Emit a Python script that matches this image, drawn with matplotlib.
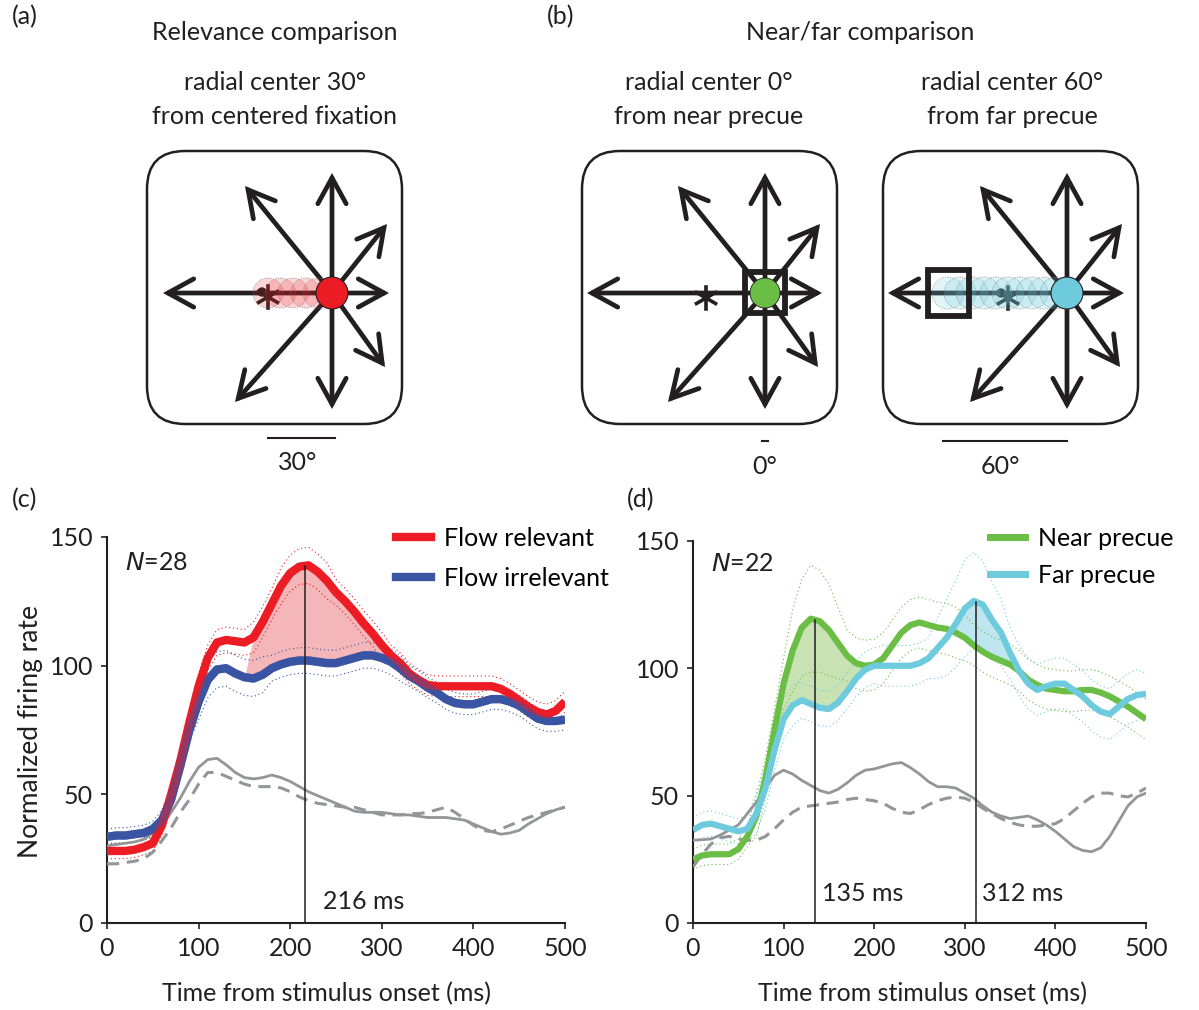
import numpy as np
import matplotlib
matplotlib.use("Agg")
import matplotlib.pyplot as plt
from matplotlib.patches import FancyBboxPatch, FancyArrowPatch, Circle, Rectangle
from matplotlib.lines import Line2D

plt.rcParams['font.family'] = ['Lato', 'DejaVu Sans']

# ---------------- data ----------------
t = np.arange(0, 501, 10)

# panel (c)
flow_relevant = [28, 28, 28, 28.5, 29.5, 31, 38, 50, 63, 78,
                 92, 103, 109, 110, 109.5, 109, 111, 117, 124, 131,
                 136, 138.5, 139, 136.5, 133, 128.5, 125, 121, 116.5, 112.5,
                 108, 104, 101, 97, 94.5, 92.5, 92, 92, 92, 92,
                 92, 92, 92, 91, 89, 86.5, 84, 82, 81, 82.5, 86]
flow_irrelevant = [33.5, 34, 34, 34.5, 35, 36.5, 40, 48, 61, 75,
                   86, 94.5, 98.5, 99, 97, 95.5, 95, 96.5, 99, 100.5,
                   101.5, 102, 102, 101.5, 101, 101, 102, 103, 104, 104,
                   103, 101.5, 99, 96, 94, 91.5, 89.5, 87, 85.5, 85,
                   85, 86, 87, 87, 86, 84.5, 82, 79.5, 78.5, 78.5, 79]
c_gray_solid = [30, 30.5, 31, 31.5, 32.5, 35, 38, 43, 48.5, 55,
                60.5, 63.5, 64, 61.5, 58.5, 56.5, 56, 56.5, 57.5, 56.5,
                55, 53, 51, 49.5, 48, 46.5, 45, 43.5, 43, 43,
                43, 42.5, 42, 42, 41.5, 41, 41, 41, 40.5, 40,
                38.5, 37, 35.5, 34.5, 35, 36, 38.5, 40.5, 42.5, 44, 45]
c_gray_dash = [23, 23, 23.5, 24, 25, 27.5, 32, 37, 43, 48,
               54, 58.5, 58.5, 57, 55.5, 54, 53, 53, 53, 52.5,
               51, 49, 47.5, 46.5, 46, 45.5, 45, 45, 44, 43,
               42, 42, 42, 42.5, 42.5, 43, 44, 45, 43, 40.5,
               38, 36, 35.5, 36.5, 38, 39.5, 41, 42, 43, 44, 45]
sem_relevant = [3, 3, 3, 3, 3, 3, 4, 4, 4, 4,
                5, 5, 5, 5, 5, 5, 6, 6, 6, 7,
                7, 7, 7, 7, 7, 5, 5, 5, 5, 5,
                5, 4, 4, 4, 4, 4, 4, 4, 4, 4,
                4, 4, 4, 4, 4, 4, 4, 4, 4, 4, 4]
sem_irrelevant = [3, 3, 3, 3, 3, 3, 4, 4, 4, 4,
                  7, 7, 7, 7, 7, 7, 7, 7, 5, 5,
                  5, 5, 5, 5, 5, 5, 5, 5, 5, 5,
                  5, 5, 5, 4, 4, 4, 4, 4, 4, 4,
                  4, 4, 4, 4, 4, 4, 4, 4, 4, 4, 4]

# panel (d)
near_precue = [25, 26.5, 27, 27, 27, 29, 34, 42, 57, 76,
               94, 107, 116, 119.5, 118.5, 115, 110, 105, 102, 101,
               101.5, 104, 109, 114, 117, 118, 117, 116, 115.5, 114,
               112, 109, 106.5, 104.5, 103, 101.5, 99, 95.5, 93.5, 92,
               91.5, 91, 91, 91.5, 91.5, 90.5, 89, 87, 85, 82.5, 80]
far_precue = [36.5, 38.5, 39, 38, 37, 36, 37, 43, 53, 68,
              80, 85.5, 87.5, 86, 84.5, 84, 86.5, 91, 96, 99.5,
              101, 101, 101, 101, 101, 102, 104, 108, 112, 117.5,
              123.5, 126.5, 125, 119, 114, 106, 99, 94, 91.5, 93,
              94, 94, 91.5, 89, 85.5, 83, 82, 85, 88, 89.5, 90]
d_gray_solid = [32.5, 32.7, 33, 34.5, 36.5, 38.5, 43, 47.5, 53, 58,
                60, 58.5, 56, 54, 52, 51, 52.5, 55, 58, 60,
                60.5, 61.5, 62.5, 63, 61, 58.5, 55.5, 53.5, 53.5, 53,
                51, 49, 46, 43.5, 42, 41, 41.5, 42, 40.5, 38.5,
                36, 33, 30, 28.5, 28, 29.5, 34, 40, 46, 49.5, 51]
d_gray_dash = [22, 27, 31, 33.5, 34, 33, 32.5, 32.5, 34, 37,
               40.5, 43.5, 45.5, 46, 46.5, 47, 47.5, 48.5, 49, 48.5,
               48, 47, 45, 43.5, 43, 44.5, 46.5, 48, 49, 49.5,
               49, 47.5, 45, 43, 41, 39.5, 38.5, 38, 38, 38.5,
               39, 41, 44, 47, 49.5, 51, 51, 50, 49.5, 51, 53]
sem_near = [4, 4, 4, 4, 4, 4, 4, 8, 8, 8,
            10, 16, 19, 21, 20, 18, 14, 10, 10, 10,
            10, 10, 10, 10, 10, 10, 10, 10, 10, 10,
            9, 8, 8, 8, 8, 8, 8, 8, 8, 8,
            8, 8, 8, 8, 8, 8, 8, 8, 8, 8, 8]
sem_far = [5, 5, 5, 5, 5, 5, 5, 8, 8, 8,
           8, 8, 7, 7, 7, 7, 7, 7, 7, 7,
           7, 8, 8, 8, 8, 8, 8, 12, 15, 17,
           19, 19, 17, 15, 13, 10, 10, 10, 10, 10,
           10, 10, 10, 10, 10, 10, 10, 10, 10, 10, 8]

c_labels = ["Flow relevant", "Flow irrelevant"]
d_labels = ["Near precue", "Far precue"]
c_mark = [216]
d_marks = [135, 312]

RED = "#ec1c24"
BLUE = "#3a54a4"
GREEN = "#6abd45"
CYAN = "#6dcbdd"
GRAY = "#939598"
INK = "#231f20"
FS = 18

fig = plt.figure(figsize=(11.99, 10.10), dpi=100)

# ---------------- top schematics (pixel coords) ----------------
top = fig.add_axes([0, 0, 1, 1])
top.set_xlim(0, 1199)
top.set_ylim(1010, 0)
top.axis("off")


def arrow(x0, y0, x1, y1):
    top.add_patch(FancyArrowPatch((x0, y0), (x1, y1),
                                  arrowstyle="->,head_length=0.62,head_width=0.34",
                                  mutation_scale=30, lw=3.4, color=INK,
                                  shrinkA=0, shrinkB=0, joinstyle="miter", zorder=3))


def asterisk(x, y):
    r = 11
    for a in [90, 30, 150]:
        dx = r * np.cos(np.radians(a))
        dy = r * np.sin(np.radians(a))
        top.plot([x - dx, x + dx], [y - dy, y + dy], color=INK, lw=2.6, zorder=4)


def flow_box(left, cx, cy, left_len):
    top.add_patch(FancyBboxPatch((left, 151), 255, 273,
                                 boxstyle="round,pad=0,rounding_size=38",
                                 fc="white", ec=INK, lw=1.8, zorder=1))
    ends = [(0, -120), (0, 116), (57, 0), (-left_len, 0),
            (-87, -107), (55, -69), (53, 74), (-97, 109)]
    for dx, dy in ends:
        arrow(cx, cy, cx + dx, cy + dy)


# (a)
flow_box(147, 332, 293, 169)
asterisk(268, 297)
top.add_patch(Circle((262, 292), 4, color=INK, zorder=4))
for x in np.linspace(268, 318, 5):
    top.add_patch(Circle((x, 293), 15, fc=RED, alpha=0.18, zorder=5))
    top.add_patch(Circle((x, 293), 15, fc="none", ec="#777777", lw=0.5, ls=":", zorder=5))
top.add_patch(Circle((332, 293), 16, fc=RED, ec=INK, lw=0.8, zorder=6))
top.plot([268, 335], [438, 438], color=INK, lw=1.5)

# (b) near
flow_box(582, 765, 293, 178)
asterisk(706, 298)
top.add_patch(Rectangle((745, 272), 40, 41, fc="none", ec=INK, lw=4.2, zorder=6))
top.add_patch(Circle((765, 293), 15, fc=GREEN, ec=INK, lw=0.6, zorder=6))
top.plot([762, 768], [441, 441], color=INK, lw=1.5)

# (b) far
flow_box(883, 1067, 293, 179)
asterisk(1008, 298)
top.add_patch(Circle((1001, 293), 4, color=INK, zorder=4))
top.add_patch(Rectangle((928, 270), 41, 46, fc="none", ec=INK, lw=4.2, zorder=6))
for x in np.linspace(948, 1056, 10):
    top.add_patch(Circle((x, 293), 16, fc=CYAN, alpha=0.2, zorder=5))
    top.add_patch(Circle((x, 293), 16, fc="none", ec="#777777", lw=0.5, ls=":", zorder=5))
top.add_patch(Circle((1067, 293), 16, fc=CYAN, ec=INK, lw=0.8, zorder=6))
top.plot([943, 1067], [441, 441], color=INK, lw=1.5)

# texts
tk = dict(color=INK, fontsize=FS, ha="center", va="center")
top.text(25, 17, "(a)", **tk)
top.text(561, 17, "(b)", **tk)
top.text(25, 500, "(c)", **tk)
top.text(641, 500, "(d)", **tk)
top.text(275, 33, "Relevance comparison", **tk)
top.text(275, 82, "radial center 30°", **tk)
top.text(275, 117, "from centered fixation", **tk)
top.text(860, 33, "Near/far comparison", **tk)
top.text(709, 82, "radial center 0°", **tk)
top.text(709, 117, "from near precue", **tk)
top.text(1012, 82, "radial center 60°", **tk)
top.text(1012, 117, "from far precue", **tk)
top.text(298, 463, "30°", **tk)
top.text(765, 466, "0°", **tk)
top.text(1000, 466, "60°", **tk)
top.text(31, 731, "Normalized firing rate", rotation=90, color=INK, fontsize=19,
         ha="center", va="center")
top.text(326, 994, "Time from stimulus onset (ms)", **tk)
top.text(922, 994, "Time from stimulus onset (ms)", **tk)

# ---------------- traces ----------------
ax_c = fig.add_axes([107 / 1199, 87 / 1010, 458 / 1199, 386 / 1010])
ax_d = fig.add_axes([693 / 1199, 87 / 1010, 453 / 1199, 382 / 1010])


def style(ax):
    ax.set_xlim(0, 500)
    ax.set_ylim(0, 150)
    ax.set_xticks([0, 100, 200, 300, 400, 500])
    ax.set_yticks([0, 50, 100, 150])
    ax.spines[["top", "right"]].set_visible(False)
    for s in ["left", "bottom"]:
        ax.spines[s].set_linewidth(1.5)
        ax.spines[s].set_color(INK)
    ax.tick_params(direction="out", length=4, width=1.2, colors=INK,
                   labelsize=FS, pad=6)
    ax.patch.set_alpha(0)


def trace(ax, y, sem, col, lw):
    y = np.array(y)
    sem = np.array(sem)
    ax.plot(t, y + sem, color=col, lw=0.8, ls=(0, (1, 2.5)), zorder=2)
    ax.plot(t, y - sem, color=col, lw=0.8, ls=(0, (1, 2.5)), zorder=2)
    ax.plot(t, y, color=col, lw=lw, solid_capstyle="butt", zorder=4)


# (c)
style(ax_c)
r = np.array(flow_relevant)
b = np.array(flow_irrelevant)
ax_c.plot(t, c_gray_dash, color=GRAY, lw=2.2, ls=(0, (4, 2.5)), zorder=3)
ax_c.plot(t, c_gray_solid, color=GRAY, lw=2.0, zorder=3)
ax_c.fill_between(t, b, r, where=(t >= 160) & (t <= 340) & (r >= b),
                  interpolate=True, color="#f4b6b8", lw=0, zorder=1)
trace(ax_c, flow_irrelevant, sem_irrelevant, BLUE, 6.0)
trace(ax_c, flow_relevant, sem_relevant, RED, 6.0)
ax_c.plot(t, b, color=BLUE, lw=6.0, zorder=4, alpha=0.5)
for m in c_mark:
    ax_c.plot([m, m], [0, np.interp(m, t, r)], color=INK, lw=1.1, zorder=5)
    ax_c.text(m + 20, 8.5, f"{m} ms", fontsize=FS, color=INK, va="center")
ax_c.text(0.04, 0.933, r"$N$=28", transform=ax_c.transAxes, fontsize=FS,
          color=INK, va="center")
ax_c.legend([Line2D([], [], color=RED, lw=6), Line2D([], [], color=BLUE, lw=6)],
            c_labels, loc="upper left", bbox_to_anchor=(396 / 1199, 1 - 527 / 1010),
            bbox_transform=fig.transFigure, frameon=False, fontsize=FS,
            borderpad=0, borderaxespad=0, handlelength=1.4, handletextpad=0.5,
            labelspacing=0.68)

# (d)
style(ax_d)
g = np.array(near_precue)
cy = np.array(far_precue)
ax_d.plot(t, d_gray_dash, color=GRAY, lw=2.2, ls=(0, (4, 2.5)), zorder=3)
ax_d.plot(t, d_gray_solid, color=GRAY, lw=2.0, zorder=3)
ax_d.fill_between(t, cy, g, where=(t >= 70) & (t <= 200) & (g >= cy),
                  interpolate=True, color="#c8e2b3", lw=0, zorder=1)
ax_d.fill_between(t, g, cy, where=(t >= 280) & (t <= 360) & (cy >= g),
                  interpolate=True, color="#bfe5ee", lw=0, zorder=1)
trace(ax_d, near_precue, sem_near, GREEN, 4.5)
trace(ax_d, far_precue, sem_far, CYAN, 4.5)
for m, yy in zip(d_marks, [g, cy]):
    ax_d.plot([m, m], [0, np.interp(m, t, yy)], color=INK, lw=1.1, zorder=5)
    ax_d.text(m + 7, 11.5, f"{m} ms", fontsize=FS, color=INK, va="center")
ax_d.text(0.04, 0.942, r"$N$=22", transform=ax_d.transAxes, fontsize=FS,
          color=INK, va="center")
ax_d.legend([Line2D([], [], color=GREEN, lw=5), Line2D([], [], color=CYAN, lw=5)],
            d_labels, loc="upper left", bbox_to_anchor=(990 / 1199, 1 - 527 / 1010),
            bbox_transform=fig.transFigure, frameon=False, fontsize=FS,
            borderpad=0, borderaxespad=0, handlelength=1.4, handletextpad=0.5,
            labelspacing=0.55)

fig.savefig("out.png", dpi=100)
